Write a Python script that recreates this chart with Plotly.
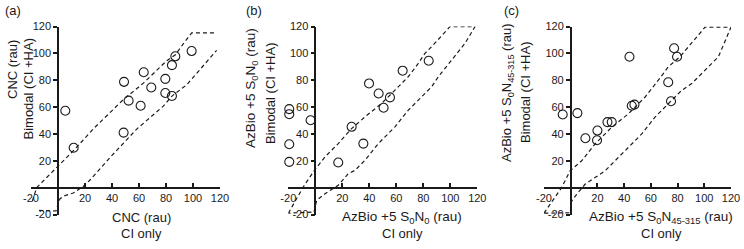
import plotly.graph_objects as go

# ---------------- data ----------------
x_ticks = [-20, 20, 40, 60, 80, 100, 120]
y_ticks = [-20, 20, 40, 60, 80, 100, 120]

# panel (a)
a_ci = [5.4, 11.6, 48.9, 48.6, 52.3, 63.5, 61.2, 69.1, 79.5, 79.5, 84.4, 84.4, 86.9, 99.0]
a_bi = [57.3, 29.7, 78.8, 41.0, 64.8, 85.9, 61.0, 74.6, 81.0, 70.5, 68.3, 91.2, 97.8, 101.7]
a_up_x = [-19, -15.8, 0, 11.9, 26, 48.4, 63.2, 73.1, 80, 84, 87, 92.8, 99, 117.5]
a_up_y = [-10, 0, 16, 28, 43.6, 65.6, 77.8, 87.5, 94, 97, 99, 107.1, 115.2, 115.2]
a_lo_x = [-14, -1.5, 1.5, 3.9, 11.3, 18.7, 23.7, 40, 58.3, 78, 84.2, 95.3, 117.5]
a_lo_y = [-17, -17.4, -8.2, -6.4, -4, 0.9, 5.7, 24, 43.6, 60.7, 68, 76.6, 102.2]

# panel (b)
b_ci = [-19.3, -19.3, -19.3, -19.3, -3.5, 17.0, 26.9, 35.6, 39.8, 46.9, 50.6, 55.3, 64.7, 84.0]
b_bi = [58.5, 54.7, 32.3, 19.2, 50.2, 18.7, 45.3, 32.8, 77.6, 70.1, 59.5, 67.2, 87.1, 94.5]
b_band_x = [-20, -8.9, -0.7, 7.2, 17, 26.9, 36.8, 49.1, 59, 68.9, 76.3, 81.2, 86.2, 99.8, 118.3,
            110.9, 101, 91.1, 86.2, 78.8, 68.9, 59, 46.7, 36.8, 29.4, 24.4, 17, 7.2, 1, -1, -20]
b_band_y = [-19, 0.5, 12.9, 22.9, 32.8, 44, 52.7, 62.7, 72.6, 82.6, 92.5, 100, 105, 119.9, 119.9,
            107.5, 95, 82.6, 75.1, 67.7, 57.7, 45.3, 32.8, 20.4, 12.9, 10.4, 1.7, -4.5, -9.5, -18.2, -19]

# panel (c)
c_ci = [-6.0, 5.0, 11.0, 19.7, 20.0, 27.5, 30.7, 44.0, 45.7, 47.7, 73.0, 75.1, 77.4, 79.6]
c_bi = [54.5, 55.5, 36.8, 35.3, 42.5, 48.8, 48.8, 97.5, 61.0, 61.8, 78.5, 64.3, 103.8, 97.5]
c_band_x = [-20, -6.8, -0.5, 8.2, 18.2, 30.7, 43.2, 55.7, 65.6, 73.1, 81.8, 88.1, 100.6, 120,
            110.6, 100.6, 90.6, 83.1, 73.1, 63.1, 53.2, 43.2, 30.7, 25.7, 18.2, 10.7, 4.5, 0.7, -0.5, -20]
c_band_y = [-19, 0, 12.5, 20, 32.5, 45, 55, 67.5, 80, 90, 97.5, 105, 119.5, 119.5,
            97.5, 87.5, 77.5, 72.5, 62.5, 52.5, 40, 30, 17.5, 12.5, 7.5, 2.5, -5, -10, -18.7, -19]

# ---------------- layout helpers ----------------
W, H = 744, 249
FONT = "Liberation Sans, Arial, Helvetica, sans-serif"
INK = "#1a1a1a"
XR = [-20, 120]
YR = [-20, 120]
y_top_px, y_bot_px = 26.5, 214.5
panels_px = [(31, 220), (288.3, 477.3), (544, 731)]

def px_x(p):
    return p / W

def px_y(p):
    return 1 - p / H

ydom = [px_y(y_bot_px), px_y(y_top_px)]
y0_px = y_bot_px - (0 - YR[0]) / (YR[1] - YR[0]) * (y_bot_px - y_top_px)

fig = go.Figure()
dash_style = dict(color=INK, width=1.2, dash="4px,3px")
mk = dict(symbol="circle-open", size=9, color=INK, line=dict(width=1.1, color=INK))

def add_panel(i, xs, ys, bands):
    ax = "" if i == 0 else str(i + 1)
    for bx, by in bands:
        fig.add_trace(go.Scatter(x=bx, y=by, mode="lines", line=dash_style,
                                 xaxis="x" + ax, yaxis="y" + ax, cliponaxis=False,
                                 showlegend=False, hoverinfo="skip"))
    fig.add_trace(go.Scatter(x=xs, y=ys, mode="markers", marker=mk,
                             xaxis="x" + ax, yaxis="y" + ax, cliponaxis=False,
                             showlegend=False))

add_panel(0, a_ci, a_bi, [(a_up_x, a_up_y), (a_lo_x, a_lo_y)])
add_panel(1, b_ci, b_bi, [(b_band_x, b_band_y)])
add_panel(2, c_ci, c_bi, [(c_band_x, c_band_y)])

layout = dict(width=W, height=H,
              margin=dict(l=0, r=0, t=0, b=0, pad=0, autoexpand=False),
              paper_bgcolor="white", plot_bgcolor="rgba(0,0,0,0)",
              font=dict(family=FONT, color=INK), showlegend=False)

for i, (l, r) in enumerate(panels_px):
    ax = "" if i == 0 else str(i + 1)
    x0_px = l + (0 - XR[0]) / (XR[1] - XR[0]) * (r - l)
    layout["xaxis" + ax] = dict(
        domain=[px_x(l), px_x(r)], range=XR, anchor="free", position=px_y(y0_px),
        automargin=False,
        showgrid=False, zeroline=False, showline=True, linecolor=INK, linewidth=1.5,
        ticks="inside", ticklen=4, tickwidth=1.5, tickcolor=INK,
        tickvals=x_ticks, ticktext=[str(v) for v in x_ticks],
        tickfont=dict(size=11, family=FONT, color=INK), fixedrange=True)
    layout["yaxis" + ax] = dict(
        domain=ydom, range=YR, anchor="free", position=px_x(x0_px),
        automargin=False,
        showgrid=False, zeroline=False, showline=True, linecolor=INK, linewidth=1.5,
        ticks="outside", ticklen=4, tickwidth=1.5, tickcolor=INK,
        tickvals=y_ticks, ticktext=[str(v) for v in y_ticks],
        tickfont=dict(size=11, family=FONT, color=INK), fixedrange=True)

fig.update_layout(**layout)

def ann(text, xp, yp, size=13, angle=0, xanchor="center"):
    fig.add_annotation(text=text, x=px_x(xp), y=px_y(yp), xref="paper", yref="paper",
                       showarrow=False, textangle=angle, xanchor=xanchor, yanchor="middle",
                       font=dict(size=size, family=FONT, color=INK))

# panel letters
ann("(a)", 3, 11, size=13, xanchor="left")
ann("(b)", 244, 11, size=13, xanchor="left")
ann("(c)", 502, 11, size=13, xanchor="left")

# x titles
ann("CNC (rau)", 141, 217)
ann("CI only", 141, 233)
ann("AzBio +5 S<sub>0</sub>N<sub>0</sub> (rau)", 402, 217, size=13.5)
ann("CI only", 402, 233)
ann("AzBio +5 S<sub>0</sub>N<sub>45-315</sub> (rau)", 661, 217, size=13.5)
ann("CI only", 661, 233)

# y titles
ann("CNC (rau)", 13, 70, angle=-90)
ann("Bimodal (CI +HA)", 27.5, 89, angle=-90)
ann("AzBio +5 S<sub>0</sub>N<sub>0</sub> (rau)", 252, 88, angle=-90, size=13.5)
ann("Bimodal (CI +HA)", 270, 93, angle=-90)
ann("AzBio +5 S<sub>0</sub>N<sub>45-315</sub> (rau)", 508, 92, angle=-90, size=13)
ann("Bimodal (CI +HA)", 526, 92, angle=-90)

fig.write_html("out.html", config={"displayModeBar": False},
               post_script="document.body.style.margin='0px';")
